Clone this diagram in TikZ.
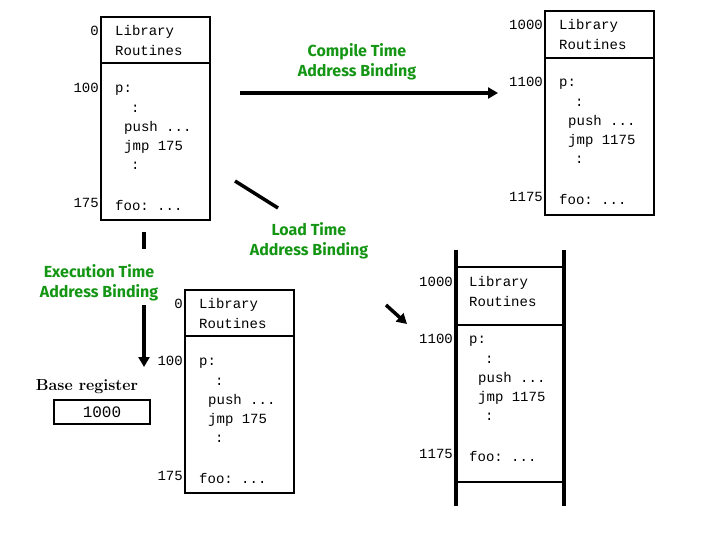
\documentclass[tikz,border=0pt]{standalone}
\usepackage{fontspec}
\setmonofont{Liberation Mono}
\newfontfamily\greenfont{Fira Sans}
\usetikzlibrary{arrows.meta}
\definecolor{bindgreen}{RGB}{20,150,20}
\tikzset{
  code/.style={font=\ttfamily\fontsize{14}{14}\selectfont, anchor=west, inner sep=0pt},
  addr/.style={font=\ttfamily\fontsize{14}{14}\selectfont, anchor=east, inner sep=0pt},
  bind/.style={font=\greenfont\bfseries\fontsize{16}{20}\selectfont, text=bindgreen, align=center},
  memline/.style={line width=1.5pt},
  binding/.style={line width=3.5pt, -{Triangle[length=10pt,width=11pt]}},
}
% memory contents: x of left edge, y of top, address labels, jump target
\newcommand{\memtext}[7]{%
  \node[addr] at (#1-2,#2+14) {#3};
  \node[code] at (#1+14,#2+15) {Library};
  \node[code] at (#1+14,#2+33) {Routines};
  \node[addr] at (#1-2,#2+71) {#4};
  \node[code] at (#1+14,#2+73) {p:};
  \node[code] at (#1+30,#2+92) {:};
  \node[code] at (#1+23,#2+111) {push ...};
  \node[code] at (#1+23,#2+130) {jmp #7};
  \node[code] at (#1+30,#2+149) {:};
  \node[addr] at (#1-2,#2+186) {#5};
  \node[code] at (#1+14,#2+188) {foo: ...};
}
\begin{document}
\begin{tikzpicture}[x=1pt,y=-1pt]
  \useasboundingbox (0,0) rectangle (720,540);

  % source program
  \draw[memline] (101,17) rectangle (210,220);
  \draw[memline] (101,63) -- (210,63);
  \memtext{101}{17}{0}{100}{175}{}{175}

  % compile time
  \draw[memline] (545,11) rectangle (654,215);
  \draw[memline] (545,58) -- (654,58);
  \memtext{545}{11}{1000}{1100}{1175}{}{1175}

  % execution time
  \draw[memline] (185,290) rectangle (294,493);
  \draw[memline] (185,336) -- (294,336);
  \memtext{185}{290}{0}{100}{175}{}{175}

  % load time
  \draw[line width=4.5pt] (456,250) -- (456,506);
  \draw[line width=4.5pt] (564,250) -- (564,506);
  \draw[memline] (456,267) -- (564,267);
  \draw[memline] (456,325) -- (564,325);
  \draw[memline] (456,482) -- (564,482);
  \memtext{455}{268}{1000}{1100}{1175}{}{1175}

  % base register
  \node[font=\fontsize{16}{16}\selectfont\bfseries] (basereg) at (87,387) {Base register};
  \node[draw, line width=1.5pt, minimum width=96pt, minimum height=24pt, inner sep=0pt,
        font=\ttfamily\fontsize{16}{16}\selectfont] (baseval) at (102,412) {1000};

  % bindings
  \node[bind] (compile) at (357,62) {Compile Time\\Address Binding};
  \node[bind] (load) at (309,241) {Load Time\\Address Binding};
  \node[bind] (exec) at (99,283) {Execution Time\\Address Binding};

  \coordinate (c0) at (240,93);
  \coordinate (c1) at (498,93);
  \draw[binding] (c0) -- (c1);

  \coordinate (l0) at (235,181);
  \coordinate (l1) at (278,208);
  \coordinate (l2) at (386,305);
  \coordinate (l3) at (407,324);
  \draw[line width=3.5pt] (l0) -- (l1);
  \draw[binding] (l2) -- (l3);

  \coordinate (e0) at (144,232);
  \coordinate (e1) at (144,249);
  \coordinate (e2) at (144,305);
  \coordinate (e3) at (144,367);
  \draw[line width=3.5pt] (e0) -- (e1);
  \draw[binding] (e2) -- (e3);
\end{tikzpicture}
\end{document}
